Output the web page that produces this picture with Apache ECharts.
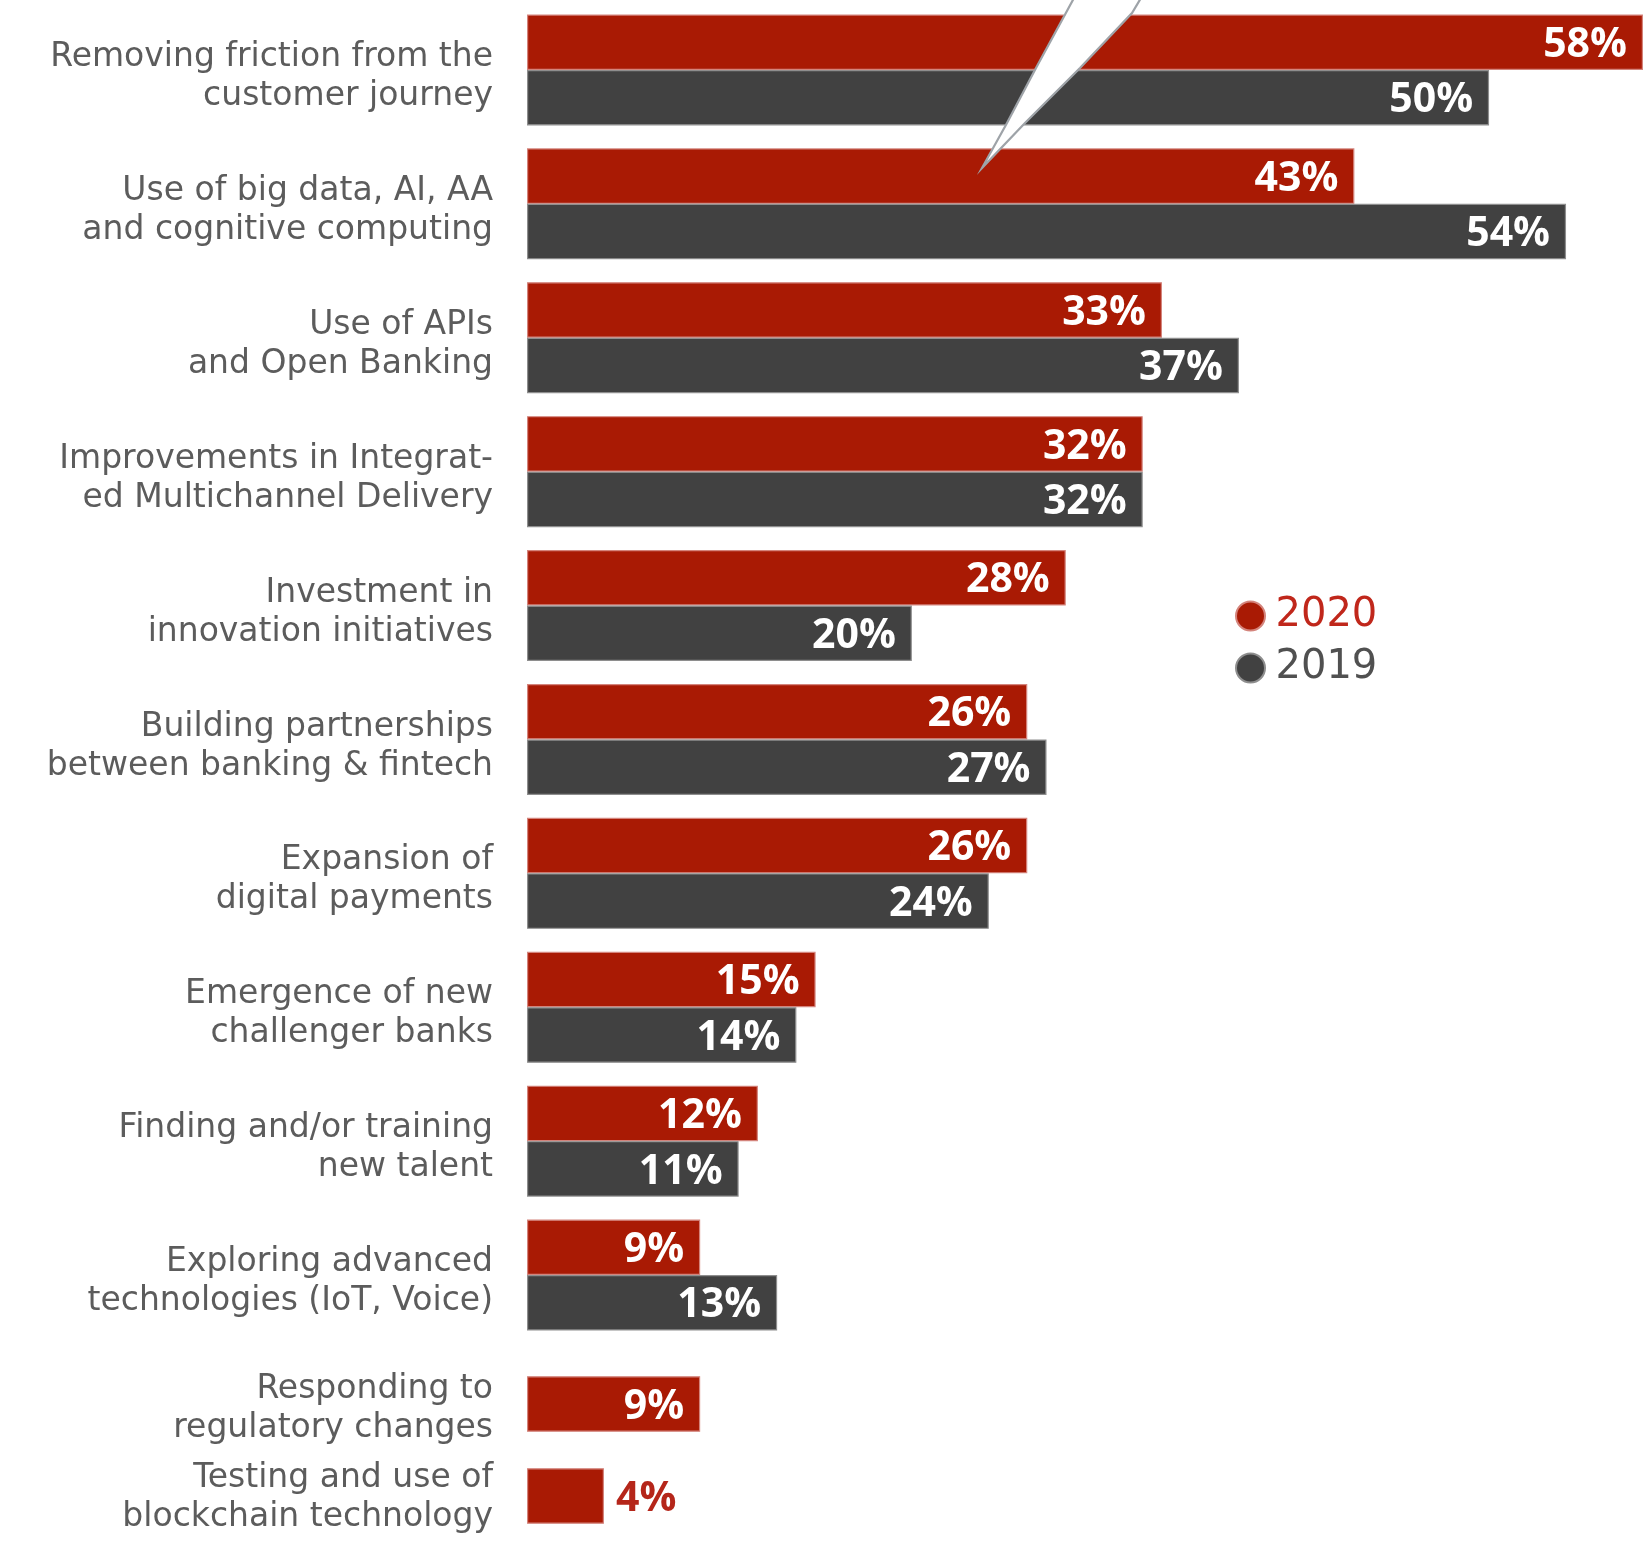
<!DOCTYPE html>
<html>
<head>
<meta charset="utf-8">
<script src="https://cdn.jsdelivr.net/npm/echarts@6/dist/echarts.min.js"></script>
<style>
html,body{margin:0;padding:0;background:#fff;}
#chart{width:1643px;height:1542px;}
</style>
</head>
<body>
<div id="chart"></div>
<script>
// ---- data ----
var categoriesMain = [
  'Removing friction from the\ncustomer journey',
  'Use of big data, AI, AA\nand cognitive computing',
  'Use of APIs\nand Open Banking',
  'Improvements in Integrat-\ned Multichannel Delivery',
  'Investment in\ninnovation initiatives',
  'Building partnerships\nbetween banking & fintech',
  'Expansion of\ndigital payments',
  'Emergence of new\nchallenger banks',
  'Finding and/or training\nnew talent',
  'Exploring advanced\ntechnologies (IoT, Voice)'
];
var categoriesExtra = [
  'Responding to\nregulatory changes',
  'Testing and use of\nblockchain technology'
];
var values2020Main = [58, 43, 33, 32, 28, 26, 26, 15, 12, 9];
var values2019Main = [50, 54, 37, 32, 20, 27, 24, 14, 11, 13];
var values2020Extra = [9, 4];
var seriesNames = ['2020', '2019'];

// ---- styling ----
var RED = '#a91a04';
var DARK = '#414141';
var LABEL_GREY = '#5c5c5c';
var FONT_TXT = '"DejaVu Sans", "Noto Sans", sans-serif';
var FONT_VAL = '"Open Sans", "Noto Sans", sans-serif';

var chart = echarts.init(document.getElementById('chart'));

function valueLabel(offsetY) {
  return {
    show: true,
    position: 'insideRight',
    distance: 16,
    offset: [0, offsetY],
    formatter: '{c}%',
    color: '#ffffff',
    fontFamily: FONT_VAL,
    fontWeight: 'bold',
    fontSize: 41
  };
}

function toItems(arr) {
  return arr.map(function (v) {
    if (v < 6) {
      return { value: v, label: { position: 'right', distance: 12, color: '#b5261a' } };
    }
    return v;
  });
}

function catAxis(gridIndex, data, showLabels) {
  return {
    type: 'category',
    gridIndex: gridIndex,
    data: data,
    inverse: true,
    axisLine: { show: false },
    axisTick: { show: false },
    splitLine: { show: false },
    axisLabel: {
      show: showLabels,
      color: LABEL_GREY,
      fontFamily: FONT_TXT,
      fontSize: 33,
      lineHeight: 39,
      align: 'right',
      margin: 34
    }
  };
}

function valAxis(gridIndex) {
  return { type: 'value', gridIndex: gridIndex, min: 0, max: 58, show: false, splitLine: { show: false } };
}

var option = {
  backgroundColor: '#ffffff',
  animation: false,
  legend: {
    orient: 'vertical',
    left: 1230,
    top: 591,
    icon: 'circle',
    itemWidth: 40,
    itemHeight: 29,
    itemGap: 12,
    textStyle: { fontFamily: FONT_TXT, fontSize: 40, color: LABEL_GREY },
    data: [
      { name: seriesNames[0], textStyle: { color: '#c0271b' } },
      { name: seriesNames[1], textStyle: { color: '#505050' } }
    ]
  },
  grid: [
    { left: 527, top: 3, width: 1123, height: 1339 },
    { left: 527, top: 1358, width: 1123, height: 187 },
    { left: 527, top: 10, width: 1123, height: 1339 },
    { left: 527, top: 1365, width: 1123, height: 187 }
  ],
  xAxis: [valAxis(0), valAxis(1), valAxis(2), valAxis(3)],
  yAxis: [
    catAxis(0, categoriesMain, false),
    catAxis(1, categoriesExtra, false),
    catAxis(2, categoriesMain, true),
    catAxis(3, categoriesExtra, true)
  ],
  series: [
    {
      name: seriesNames[0], type: 'bar', xAxisIndex: 0, yAxisIndex: 0,
      data: toItems(values2020Main), barWidth: 55.5, barGap: '0%',
      itemStyle: { color: RED, borderColor: '#d4847c', borderWidth: 1.2 },
      label: valueLabel(3)
    },
    {
      name: seriesNames[1], type: 'bar', xAxisIndex: 0, yAxisIndex: 0,
      data: toItems(values2019Main), barWidth: 55.5, barGap: '0%',
      itemStyle: { color: DARK, borderColor: '#8e8e8e', borderWidth: 1.2 },
      label: valueLabel(3)
    },
    {
      name: seriesNames[0], type: 'bar', xAxisIndex: 1, yAxisIndex: 1,
      data: toItems(values2020Extra), barWidth: 55.5,
      itemStyle: { color: RED, borderColor: '#d4847c', borderWidth: 1.2 },
      label: valueLabel(3)
    }
  ],
  graphic: [
    {
      type: 'polygon', z: 100,
      shape: { points: [[1074, -2], [1036, 68], [1007, 123], [982, 168], [1025, 123], [1080, 68], [1132, 13], [1141, -2]] },
      style: { fill: '#ffffff', stroke: '#9ea3a8', lineWidth: 2.2 }
    }
  ]
};

chart.setOption(option);
</script>
</body>
</html>
